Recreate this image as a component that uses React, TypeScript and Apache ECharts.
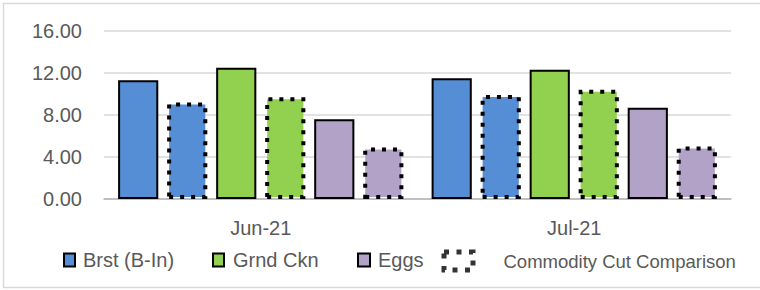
import React, { useEffect, useRef } from "react";
import * as echarts from "echarts";

const categories = ["Jun-21", "Jul-21"];
const brst = [11.3, 11.5];
const brstCut = [9.2, 9.9];
const grnd = [12.5, 12.3];
const grndCut = [9.7, 10.4];
const eggs = [7.6, 8.7];
const eggsCut = [4.9, 5.0];
const yTicks = { min: 0, max: 16, interval: 4 };

const BLUE = "#558ED5";
const GREEN = "#92D050";
const PURPLE = "#B3A2C7";
const FONT = "Liberation Sans";
const TEXT = "#595959";

export default function App() {
  const ref = useRef<HTMLDivElement>(null);
  useEffect(() => {
    if (!ref.current) return;
    const chart = echarts.init(ref.current, null, { renderer: "svg" });
    const solid = (name: string, data: number[], color: string) => ({
      type: "bar",
      name,
      data,
      barGap: "22%",
      barCategoryGap: "9%",
      itemStyle: { color, borderColor: "#000", borderWidth: 2 },
    });
    const cut = (name: string, data: number[], color: string) => ({
      type: "bar",
      name,
      data,
      barGap: "22%",
      barCategoryGap: "9%",
      itemStyle: { color, borderColor: "#000", borderWidth: 4, borderType: [4, 7] },
    });
    const legendBase = {
      padding: 0,
      itemGap: 0,
      selectedMode: false,
      textStyle: { fontFamily: FONT, fontSize: 20, color: TEXT },
    };
    chart.setOption({
      animation: false,
      textStyle: { fontFamily: FONT },
      grid: { left: 104, right: 29, top: 31, bottom: 91 },
      graphic: [
        {
          type: "rect",
          shape: { x: 3.5, y: 3.5, width: 800, height: 284 },
          style: { fill: "none", stroke: "#d9d9d9", lineWidth: 1.5 },
          silent: true,
        },
      ],
      xAxis: {
        type: "category",
        data: categories,
        axisTick: { show: false },
        axisLine: { lineStyle: { color: "#b4b4b4", width: 1.5 } },
        axisLabel: { fontFamily: FONT, fontSize: 20, color: TEXT, margin: 19 },
      },
      yAxis: {
        type: "value",
        min: yTicks.min,
        max: yTicks.max,
        interval: yTicks.interval,
        axisLine: { show: false },
        axisTick: { show: false },
        splitLine: { lineStyle: { color: "#d9d9d9", width: 1.5 } },
        axisLabel: {
          fontFamily: FONT,
          fontSize: 20,
          color: TEXT,
          margin: 22,
          formatter: (v: number) => v.toFixed(2),
        },
      },
      legend: [
        {
          ...legendBase,
          left: 63,
          top: 250,
          itemWidth: 11,
          itemHeight: 13,
          data: [
            {
              name: "Brst (B-In)",
              icon: "rect",
              itemStyle: { color: BLUE, borderColor: "#000", borderWidth: 2 },
              textStyle: { padding: [0, 0, 0, 3] },
            },
          ],
        },
        {
          ...legendBase,
          left: 212,
          top: 250,
          itemWidth: 11,
          itemHeight: 13,
          data: [
            {
              name: "Grnd Ckn",
              icon: "rect",
              itemStyle: { color: GREEN, borderColor: "#000", borderWidth: 2 },
              textStyle: { padding: [0, 0, 0, 4] },
            },
          ],
        },
        {
          ...legendBase,
          left: 357,
          top: 250,
          itemWidth: 12,
          itemHeight: 13,
          data: [
            {
              name: "Eggs",
              icon: "rect",
              itemStyle: { color: PURPLE, borderColor: "#000", borderWidth: 2 },
              textStyle: { padding: [0, 0, 0, 3] },
            },
          ],
        },
        {
          ...legendBase,
          left: 441.5,
          top: 249.5,
          itemWidth: 29,
          itemHeight: 18,
          textStyle: { fontFamily: FONT, fontSize: 18.5, color: TEXT },
          data: [
            {
              name: "Commodity Cut Comparison",
              icon: "rect",
              itemStyle: {
                color: "#fff",
                borderColor: "#000",
                borderWidth: 5,
                borderType: [5, 7.5],
              },
              textStyle: { padding: [10, 0, 0, 25.5] },
            },
          ],
        },
      ],
      series: [
        solid("Brst (B-In)", brst, BLUE),
        cut("Brst (B-In) Cut", brstCut, BLUE),
        solid("Grnd Ckn", grnd, GREEN),
        cut("Grnd Ckn Cut", grndCut, GREEN),
        solid("Eggs", eggs, PURPLE),
        cut("Eggs Cut", eggsCut, PURPLE),
        { type: "scatter", name: "Commodity Cut Comparison", data: [] },
      ],
    });
    return () => chart.dispose();
  }, []);
  return (
    <div
      ref={ref}
      style={{ position: "absolute", left: 0, top: 0, width: 760, height: 290, background: "#fff" }}
    />
  );
}
